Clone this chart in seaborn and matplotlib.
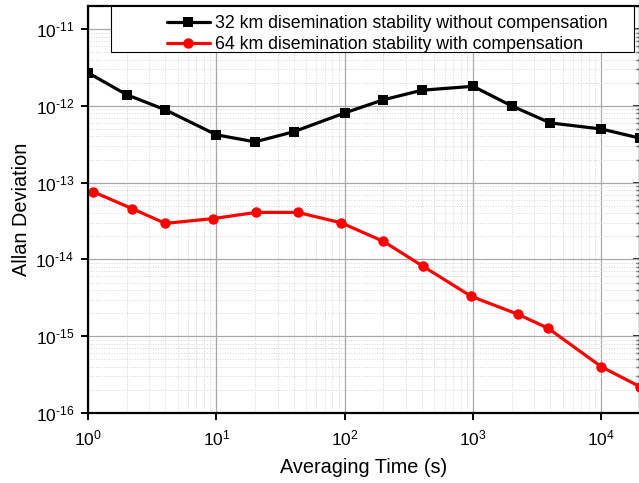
import numpy as np
import pandas as pd
import matplotlib
matplotlib.use("Agg")
import matplotlib.pyplot as plt
import matplotlib.ticker as mticker
from matplotlib.patches import Rectangle
import seaborn as sns

# Data
tau_32 = [1, 2, 4, 10, 20, 40, 100, 200, 400, 1000, 2000, 4000, 10000, 20000]
adev_32 = [2.7e-12, 1.4e-12, 8.9e-13, 4.2e-13, 3.4e-13, 4.6e-13, 8.1e-13,
           1.2e-12, 1.6e-12, 1.8e-12, 1.0e-12, 6.0e-13, 5.0e-13, 3.8e-13]
tau_64 = [1.1, 2.2, 4, 9.4, 20.4, 43, 94, 200, 410, 970, 2240, 3850, 10000, 20000]
adev_64 = [7.6e-14, 4.6e-14, 2.95e-14, 3.4e-14, 4.1e-14, 4.1e-14, 3.0e-14,
           1.72e-14, 8.1e-15, 3.3e-15, 1.93e-15, 1.27e-15, 4.0e-16, 2.2e-16]
label_32 = "32 km disemination stability without compensation"
label_64 = "64 km disemination stability with compensation"
x_decades = [1e0, 1e1, 1e2, 1e3, 1e4]
y_decades = [1e-16, 1e-15, 1e-14, 1e-13, 1e-12, 1e-11]

sns.set_style("white")
plt.rcParams['font.family'] = ['Liberation Sans', 'DejaVu Sans']
plt.rcParams['mathtext.fontset'] = 'custom'
plt.rcParams['mathtext.rm'] = 'Liberation Sans'
plt.rcParams['mathtext.it'] = 'Liberation Sans:italic'
plt.rcParams['text.color'] = 'black'
plt.rcParams['axes.labelcolor'] = 'black'
plt.rcParams['axes.unicode_minus'] = False

df = pd.concat([
    pd.DataFrame({"tau": tau_32, "adev": adev_32, "series": label_32}),
    pd.DataFrame({"tau": tau_64, "adev": adev_64, "series": label_64}),
])

W, H = 639, 483
fig = plt.figure(figsize=(W/100, H/100), dpi=100)
ax = fig.add_axes([88/W, 1-413/H, (640-88)/W, (413-6)/H])

sns.lineplot(data=df, x="tau", y="adev", hue="series", style="series",
             palette={label_32: "black", label_64: "#ff0000"},
             markers={label_32: "s", label_64: "o"}, dashes=False,
             markersize=7.5, markeredgewidth=0, linewidth=2.3, ax=ax,
             sort=False, estimator=None, legend=True)

ax.set_xscale("log")
ax.set_yscale("log")
ax.set_xlim(1, 2e4)
ax.set_ylim(1e-16, 2e-11)

def sci(v, pos=None):
    return r"$10^{\text{%d}}$" % int(round(np.log10(v)))

ax.xaxis.set_major_locator(mticker.FixedLocator(x_decades))
ax.xaxis.set_major_formatter(mticker.FuncFormatter(sci))
ax.xaxis.set_minor_locator(mticker.LogLocator(base=10, subs=np.arange(2, 10), numticks=50))
ax.yaxis.set_major_locator(mticker.FixedLocator(y_decades))
ax.yaxis.set_major_formatter(mticker.FuncFormatter(sci))
ax.yaxis.set_minor_locator(mticker.LogLocator(base=10, subs=np.arange(2, 10), numticks=50))
ax.xaxis.set_minor_formatter(mticker.NullFormatter())
ax.yaxis.set_minor_formatter(mticker.NullFormatter())

ax.grid(True, which="major", color="#a8a8a8", linewidth=0.9, linestyle="-")
ax.grid(True, which="minor", color="#d4d4d4", linewidth=0.7, linestyle=":")

for s in ax.spines.values():
    s.set_color("black")
    s.set_linewidth(1.6)

ax.tick_params(axis="both", which="major", direction="out", length=5, width=1.4,
               labelsize=12.5, colors="black", labelcolor="black", pad=5)
ax.tick_params(axis="both", which="minor", direction="out", length=3, width=1.0)
ax.tick_params(left=True, bottom=True)
ax.tick_params(axis="x", which="major", pad=6)

axr = ax.secondary_yaxis("right")
axr.yaxis.set_major_locator(mticker.FixedLocator(y_decades))
axr.yaxis.set_minor_locator(mticker.LogLocator(base=10, subs=np.arange(2, 10), numticks=50))
axr.tick_params(which="major", direction="in", length=5, width=1.4, labelright=False)
axr.tick_params(which="minor", direction="in", length=3, width=1.0)
axr.yaxis.set_major_formatter(mticker.NullFormatter())
axr.yaxis.set_minor_formatter(mticker.NullFormatter())

ax.set_xlabel("Averaging Time (s)", fontsize=14.3, labelpad=7, color="black")
ax.set_ylabel("Allan Deviation", fontsize=14.3, labelpad=3, color="black")

# legend frame (wider than its content, as in the reference)
frame = Rectangle((111/W, 1-52/H), (634-111)/W, (52-6)/H, transform=fig.transFigure,
                  facecolor="white", edgecolor="black", linewidth=0.8, zorder=5,
                  clip_on=False)
ax.add_patch(frame)

leg = ax.legend(loc="upper left", bbox_to_anchor=(167/W, 1-15/H),
                bbox_transform=fig.transFigure, fontsize=12.8, frameon=False,
                handlelength=2.4, handletextpad=0.3, borderpad=0.0,
                labelspacing=0.25, borderaxespad=0)
leg.set_zorder(6)
for t in leg.get_texts():
    t.set_color("black")
for h in leg.legend_handles:
    h.set_markersize(7.5)

fig.savefig("out.png", dpi=100)
